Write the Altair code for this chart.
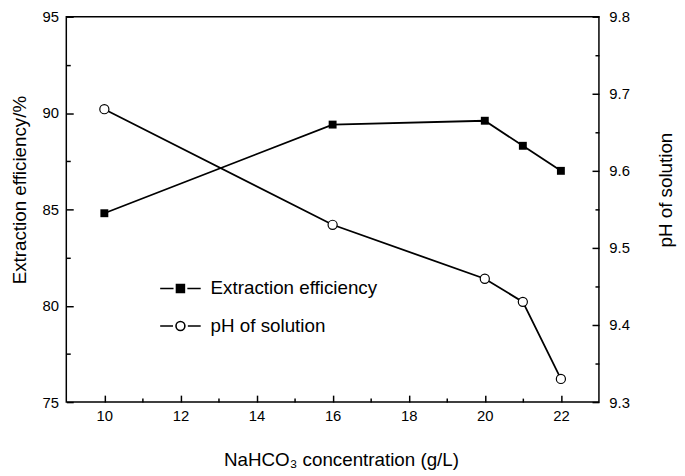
import altair as alt
import pandas as pd

conc = [10, 16, 20, 21, 22]
efficiency = [84.8, 89.4, 89.6, 88.3, 87.0]
ph = [9.68, 9.53, 9.46, 9.43, 9.33]
series_names = ["Extraction efficiency", "pH of solution"]

x_major = [10, 12, 14, 16, 18, 20, 22]
x_minor = [11, 13, 15, 17, 19, 21]
eff_major = [75, 80, 85, 90, 95]
eff_minor = [77.5, 82.5, 87.5, 92.5]
ph_major = [9.3, 9.4, 9.5, 9.6, 9.7, 9.8]
ph_minor = [9.35, 9.45, 9.55, 9.65, 9.75]

eff_df = pd.DataFrame({"conc": conc, "value": efficiency, "series": series_names[0]})
ph_df = pd.DataFrame({"conc": conc, "value": ph, "series": series_names[1]})

FONT = "Liberation Sans"
xs = alt.Scale(domain=[9, 23], nice=False, zero=False)
ys_eff = alt.Scale(domain=[75, 95], nice=False, zero=False)
ys_ph = alt.Scale(domain=[9.3, 9.8], nice=False, zero=False)

base_axis = dict(domain=False, grid=False, tickColor="black", tickWidth=1.5,
                 labelColor="black", labelFont=FONT, labelFontSize=15,
                 titleFont=FONT, titleFontSize=19, titleColor="black",
                 titleFontWeight="normal")

x_major_axis = alt.Axis(values=x_major, orient="bottom", offset=-7, tickSize=7,
                        labelPadding=7, title="NaHCO\u2083 concentration (g/L)",
                        titleX=278, titleY=71, titleBaseline="alphabetic",
                        titleAlign="center", **base_axis)
x_minor_axis = alt.Axis(values=x_minor, orient="bottom", offset=-4, tickSize=4,
                        labels=False, title=None, **base_axis)

eff_major_axis = alt.Axis(values=eff_major, orient="left", offset=-7, tickSize=7,
                          labelPadding=8, title="Extraction efficiency/%",
                          titleAngle=270, titleX=-48.5, titleY=175,
                          titleBaseline="alphabetic", titleAlign="center", **base_axis)
eff_minor_axis = alt.Axis(values=eff_minor, orient="left", offset=-4, tickSize=4,
                          labels=False, title=None, **base_axis)

ph_major_axis = alt.Axis(values=ph_major, orient="right", offset=-7, tickSize=7,
                         labelPadding=10, format=".1f", title="pH of solution",
                         titleAngle=270, titleX=80, titleY=175,
                         titleBaseline="alphabetic", titleAlign="center", **base_axis)
ph_minor_axis = alt.Axis(values=ph_minor, orient="right", offset=-4, tickSize=4,
                         labels=False, title=None, **base_axis)

eff_line = alt.Chart(eff_df).mark_line(color="black", strokeWidth=1.8).encode(
    x=alt.X("conc:Q", scale=xs, axis=x_major_axis),
    y=alt.Y("value:Q", scale=ys_eff, axis=eff_major_axis),
)
eff_pts = alt.Chart(eff_df).mark_point(shape="square", filled=True, size=64,
                                       color="black", opacity=1).encode(
    x=alt.X("conc:Q", scale=xs, axis=x_minor_axis),
    y=alt.Y("value:Q", scale=ys_eff, axis=eff_minor_axis),
)
ph_line = alt.Chart(ph_df).mark_line(color="black", strokeWidth=1.8).encode(
    x=alt.X("conc:Q", scale=xs, axis=None),
    y=alt.Y("value:Q", scale=ys_ph, axis=ph_major_axis),
)
ph_pts = alt.Chart(ph_df).mark_point(shape="circle", filled=True, fill="white",
                                     stroke="black", strokeWidth=1.2, size=85,
                                     opacity=1).encode(
    x=alt.X("conc:Q", scale=xs, axis=None),
    y=alt.Y("value:Q", scale=ys_ph, axis=ph_minor_axis),
)

sq_path = "M-2.05,0H-0.7M0.7,0H2.05M-0.4,-0.4H0.4V0.4H-0.4Z"
circ_path = ("M-2.05,0H-0.75M0.75,0H2.05M0.45,0A0.45,0.45,0,1,1,-0.45,0"
             "A0.45,0.45,0,1,1,0.45,0Z")

legend_cfg = alt.Legend(orient="none", legendX=104.5, legendY=264, title=None,
                        symbolSize=400, labelOffset=19.5, rowPadding=17,
                        labelFont=FONT, labelFontSize=19, labelColor="black",
                        labelLimit=400, padding=0, symbolStrokeWidth=1.6,
                        symbolOpacity=1)

legend_layer = alt.Chart(eff_df).transform_filter("false").mark_point(
    filled=True, strokeWidth=1.6, opacity=1).encode(
    fill=alt.Fill("series:N", scale=alt.Scale(domain=series_names,
                                              range=["black", "white"]),
                  legend=legend_cfg),
    stroke=alt.Stroke("series:N", scale=alt.Scale(domain=series_names,
                                                  range=["black", "black"]),
                      legend=legend_cfg),
    shape=alt.Shape("series:N", scale=alt.Scale(domain=series_names,
                                                range=[sq_path, circ_path]),
                    legend=legend_cfg),
)

chart = alt.layer(eff_line, eff_pts, ph_line, ph_pts, legend_layer).resolve_scale(
    y="independent"
).resolve_axis(
    x="independent", y="independent"
).properties(
    width=539, height=390,
    autosize=alt.AutoSizeParams(type="none"),
    padding={"left": 59, "top": 6, "right": 79, "bottom": 70},
    background="white",
).configure_view(stroke="black", strokeWidth=1.5)

chart.save("out.html", embed_options={"renderer": "svg", "actions": False})
